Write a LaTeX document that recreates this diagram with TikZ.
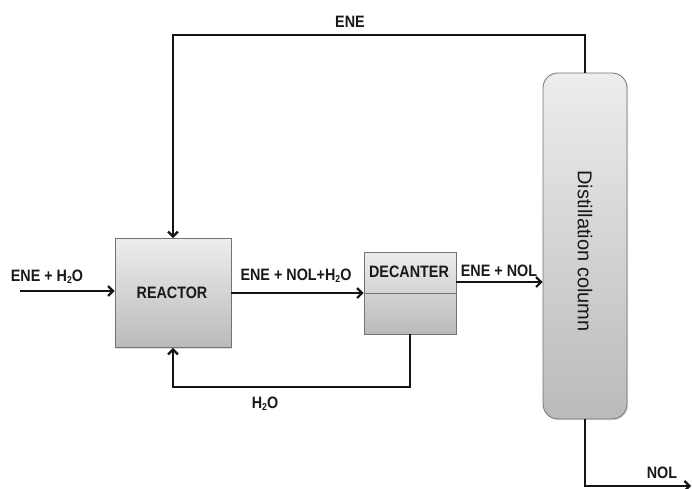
\documentclass[tikz,border=0pt]{standalone}
\usepackage{fontspec}
\setmainfont{Liberation Sans}
\newfontfamily\lbl{Liberation Sans}[FakeStretch=0.87]
\usetikzlibrary{arrows.meta,shadows}
\newcommand{\sub}[1]{\raisebox{-0.25ex}{\fontsize{10}{10}\selectfont #1}}
\begin{document}
\begin{tikzpicture}[x=1pt,y=-1pt,
  unit/.style={draw=black!55, line width=0.8pt, top color=black!7, bottom color=black!27,
    drop shadow={shadow xshift=1.2pt, shadow yshift=-1.2pt, opacity=0.25}, inner sep=0pt},
  lab/.style={font=\lbl\bfseries\fontsize{16.5}{18}\selectfont, text=black!90, inner sep=0pt},
  flow/.style={line width=2.8pt, draw=black!92, -{Straight Barb[length=5pt,width=10pt,line width=2.2pt]}},
  line/.style={line width=2.8pt, draw=black!92}]
\useasboundingbox (0,0) rectangle (692,488);
\fill[white] (0,0) rectangle (692,488);
% units
\node[unit, minimum width=116pt, minimum height=109pt] (reactor) at (173,293) {};
\node[lab] (reactorlab) at (172,293) {REACTOR};
\node[unit, minimum width=92pt, minimum height=82pt] (dec) at (410,293) {};
\draw[black!55, line width=0.8pt] (dec.west) -- (dec.east);
\node[lab] (declab) at (409,272) {DECANTER};
\node[unit, rounded corners=15pt, minimum width=84pt, minimum height=346pt] (col) at (585,246) {};
\node[font=\fontsize{20}{22}\selectfont, rotate=-90, inner sep=0pt, text=black!90] (collab) at (585,251) {Distillation column};
% coordinates
\coordinate (feed) at (20,291);
\coordinate (nol) at (691,486);
\coordinate (decout) at (456,282);
% connectors
\draw[flow] (feed) -- (reactor.west |- feed);
\draw[flow] (reactor.east) -- (dec.west);
\draw[flow] (decout) -- (col.west |- decout);
\draw[flow] (col.north) |- (reactor.north |- 0,35) -- (reactor.north);
\draw[flow] (dec.south) |- (reactor.south |- 0,387) -- (reactor.south);
\draw[flow] (col.south) |- (nol);
% labels
\node[lab] (l1) at (47,277) {ENE + H\sub{2}O};
\node[lab] (l2) at (296,276) {ENE + NOL+H\sub{2}O};
\node[lab] (l3) at (499,271) {ENE + NOL};
\node[lab] (l4) at (350,22) {ENE};
\node[lab] (l5) at (265,404) {H\sub{2}O};
\node[lab] (l6) at (662,473) {NOL};
\end{tikzpicture}
\end{document}
